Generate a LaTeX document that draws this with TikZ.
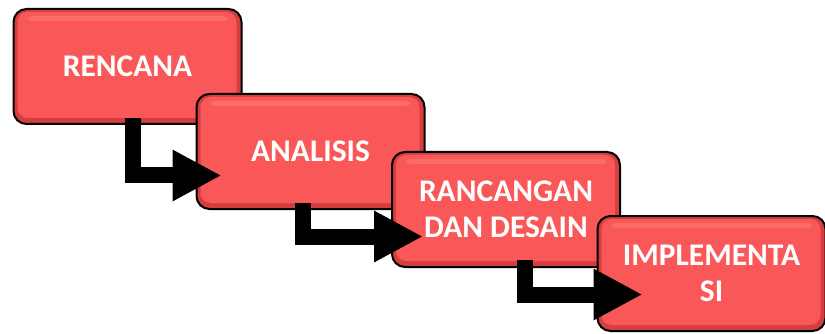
\documentclass[tikz,border=0pt]{standalone}
\usepackage{fontspec}
\setmainfont{Carlito}
\usetikzlibrary{arrows.meta}
\definecolor{boxred}{RGB}{250,88,88}
\definecolor{boxedge}{RGB}{212,62,62}
\definecolor{boxgloss}{RGB}{255,140,140}
\tikzset{
  stage/.style={
    draw=black, line width=2pt, rounded corners=13pt,
    minimum width=228pt, minimum height=115pt,
    fill=boxedge, text=white, align=center,
    font=\fontsize{31.5}{36}\selectfont\bfseries,
    path picture={
      \fill[boxred, rounded corners=10pt]
        ([shift={(4pt,6pt)}]path picture bounding box.south west) rectangle
        ([shift={(-5pt,-3pt)}]path picture bounding box.north east);
      \fill[boxgloss, opacity=0.4, rounded corners=4pt]
        ([shift={(14pt,-12pt)}]path picture bounding box.north west) rectangle
        ([shift={(-14pt,-7pt)}]path picture bounding box.north east);
    }
  },
  flow/.style={
    draw=black, line width=16pt, line join=miter,
    -{Triangle[length=49pt,width=48pt]}
  }
}
\begin{document}
\begin{tikzpicture}[x=1pt,y=-1pt]
  \useasboundingbox (0,0) rectangle (825,334);
  % the four stages, each overlapping the one before
  \node[stage] (b1) at (127.5,66.5) {RENCANA};
  \node[stage] (b2) at (310.5,151.5) {ANALISIS};
  \node[stage] (b3) at (506,209.5) {RANCANGAN\\DAN DESAIN};
  \node[stage] (b4) at (711.5,273.5) {IMPLEMENTA\\SI};
  % elbow arrows from each stage to the next
  \draw[flow] ([xshift=120.5pt,yshift=7pt]b1.south west)
    |- ([xshift=26pt,yshift=-24pt]b2.west);
  \draw[flow] ([xshift=107pt,yshift=7pt]b2.south west)
    |- ([xshift=32pt,yshift=-27pt]b3.west);
  \draw[flow] ([xshift=134pt,yshift=8pt]b3.south west)
    |- ([xshift=46pt,yshift=-21pt]b4.west);
\end{tikzpicture}
\end{document}
